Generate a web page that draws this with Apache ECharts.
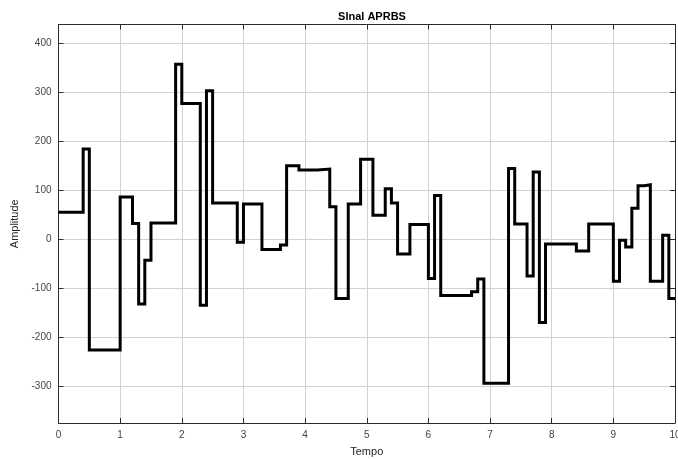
<!DOCTYPE html>
<html>
<head>
<meta charset="utf-8">
<script src="https://cdn.jsdelivr.net/npm/echarts@6/dist/echarts.min.js"></script>
<style>
  html, body { margin: 0; padding: 0; background: #fff; }
  #chart { width: 678px; height: 459px; }
</style>
</head>
<body>
<div id="chart"></div>
<script>
// APRBS signal: value held from each switch time to the next one
var switchTimes = [0, 0.4, 0.5, 1.0, 1.2, 1.3, 1.4, 1.5, 1.9, 2.0, 2.3, 2.4, 2.5, 2.9, 3.0, 3.3, 3.6, 3.7, 3.9,
  4.2, 4.4, 4.5, 4.7, 4.9, 5.1, 5.3, 5.4, 5.5, 5.7, 6.0, 6.1, 6.2, 6.7, 6.8, 6.9, 7.3, 7.4, 7.6, 7.7, 7.8,
  7.9, 8.4, 8.6, 9.0, 9.1, 9.2, 9.3, 9.4, 9.5, 9.6, 9.8, 9.9, 10.0];
var amplitudes = [55, 184, -226, 86, 32, -132, -43, 33, 357, 277, -135, 303, 74, -6, 72, -21, -12, 150, 141,
  143, 66, -121, 72, 163, 49, 103, 74, -30, 30, -80, 89, -115, -107, -81, -294, 144, 31, -75, 137, -170,
  -10, -24, 31, -86, -2, -16, 63, 109, 111, -86, 8, -121, -121];

var yTicks = [-300, -200, -100, 0, 100, 200, 300, 400];

var chart = echarts.init(document.getElementById('chart'));

var points = switchTimes.map(function (t, i) { return [t, amplitudes[i]]; });

var font = 'Liberation Sans, Arial, sans-serif';
var gridColor = '#d2d2d2';
var axisColor = '#2b2b2b';

chart.setOption({
  animation: false,
  title: {
    text: 'SInal APRBS',
    left: 367,
    textAlign: 'center',
    top: 6,
    textStyle: { fontFamily: font, fontSize: 11, fontWeight: 'bold', color: '#000' }
  },
  grid: { left: 58.5, right: 3, top: 24.5, bottom: 36, containLabel: false, outerBoundsMode: 'none' },
  xAxis: [
    {
      type: 'value',
      min: 0,
      max: 10,
      interval: 1,
      name: 'Tempo',
      nameLocation: 'middle',
      nameGap: 23,
      nameTextStyle: { fontFamily: font, fontSize: 11, color: '#262626' },
      axisLine: { onZero: false, lineStyle: { color: axisColor, width: 1 } },
      axisTick: { inside: true, length: 5, lineStyle: { color: axisColor } },
      axisLabel: { fontFamily: font, fontSize: 10, color: '#444', margin: 7 },
      splitLine: { show: true, lineStyle: { color: gridColor, width: 1 } }
    },
    {
      type: 'value',
      position: 'top',
      min: 0,
      max: 10,
      interval: 1,
      axisLine: { show: true, onZero: false, lineStyle: { color: axisColor, width: 1 } },
      axisTick: { show: true, inside: true, length: 5, lineStyle: { color: axisColor } },
      axisLabel: { show: false },
      splitLine: { show: false }
    }
  ],
  yAxis: [
    {
      type: 'value',
      min: -375,
      max: 438,
      axisLabel: { customValues: yTicks, fontFamily: font, fontSize: 10, color: '#444', margin: 7 },
      axisTick: { customValues: yTicks, inside: true, length: 5, lineStyle: { color: axisColor } },
      name: 'Amplitude',
      nameLocation: 'middle',
      nameRotate: 90,
      nameGap: 31,
      nameTextStyle: { fontFamily: font, fontSize: 11, color: '#262626' },
      axisLine: { show: true, onZero: false, lineStyle: { color: axisColor, width: 1 } },
      splitLine: { show: true, lineStyle: { color: gridColor, width: 1 } }
    },
    {
      type: 'value',
      position: 'right',
      min: -375,
      max: 438,
      axisTick: { customValues: yTicks, show: true, inside: true, length: 5, lineStyle: { color: axisColor } },
      axisLabel: { show: false, customValues: yTicks },
      axisLine: { show: true, onZero: false, lineStyle: { color: axisColor, width: 1 } },
      splitLine: { show: false }
    }
  ],
  series: [
    {
      type: 'line',
      step: 'end',
      data: points,
      symbol: 'none',
      lineStyle: { color: '#000', width: 3, join: 'miter' },
      z: 5
    }
  ]
});
</script>
</body>
</html>
